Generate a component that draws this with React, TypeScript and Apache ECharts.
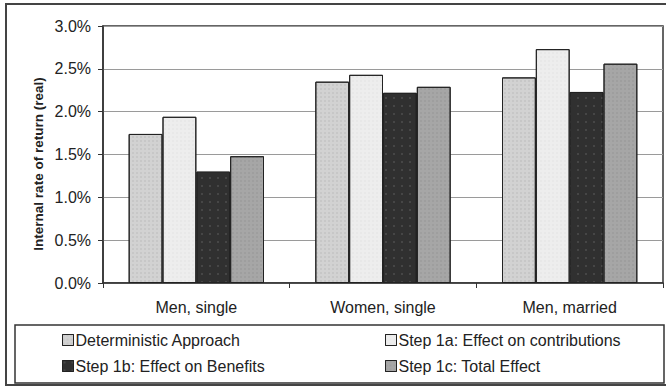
import React, { useEffect, useRef } from "react";
import * as echarts from "echarts";

const categories = ["Men, single", "Women, single", "Men, married"];
const seriesNames = [
  "Deterministic Approach",
  "Step 1a: Effect on contributions",
  "Step 1b: Effect on Benefits",
  "Step 1c: Total Effect",
];
const deterministic = [1.74, 2.35, 2.4];
const step1a = [1.94, 2.43, 2.73];
const step1b = [1.3, 2.22, 2.23];
const step1c = [1.48, 2.29, 2.56];
const yTicks = [0, 0.5, 1.0, 1.5, 2.0, 2.5, 3.0];
const yAxisTitle = "Internal rate of return (real)";

export default function App() {
  const ref = useRef<HTMLDivElement>(null);
  useEffect(() => {
    if (!ref.current) return;
    const chart = echarts.init(ref.current, null, { renderer: "svg" });
    const font = "Liberation Sans, Arial, sans-serif";
    const colors = ["#d2d2d2", "#ededed", "#303030", "#a6a6a6"];
    const decals = [
      { symbol: "rect", symbolSize: 0.5, color: "rgba(90,90,90,0.35)", dashArrayX: [2, 2], dashArrayY: [2, 2] },
      { symbol: "rect", symbolSize: 0.5, color: "rgba(150,150,150,0.25)", dashArrayX: [2, 2], dashArrayY: [2, 2] },
      { symbol: "rect", symbolSize: 0.5, color: "rgba(120,120,120,0.3)", dashArrayX: [4, 4], dashArrayY: [4, 4] },
      { symbol: "rect", symbolSize: 0.5, color: "rgba(60,60,60,0.3)", dashArrayX: [2, 2], dashArrayY: [2, 2] },
    ];
    const data = [deterministic, step1a, step1b, step1c];
    const legendCommon = {
      orient: "vertical",
      top: 327,
      icon: "rect",
      itemWidth: 11,
      itemHeight: 11,
      itemGap: 10,
      textStyle: { fontSize: 16, color: "#222", fontFamily: font, padding: [0, 0, 0, -3] },
      itemStyle: { borderColor: "#222", borderWidth: 1 },
    };
    chart.setOption({
      animation: false,
      backgroundColor: "#ffffff",
      textStyle: { fontFamily: font },
      grid: {
        left: 103,
        top: 26,
        right: 3,
        bottom: 106,
        show: true,
        borderColor: "#333",
        borderWidth: 1.5,
        backgroundColor: "transparent",
      },
      legend: [
        { ...legendCommon, data: [seriesNames[0], seriesNames[2]], left: 57 },
        { ...legendCommon, data: [seriesNames[1], seriesNames[3]], left: 380 },
      ],
      xAxis: {
        type: "category",
        data: categories,
        axisLine: { lineStyle: { color: "#333", width: 1.5 } },
        axisTick: { show: true, length: 5, lineStyle: { color: "#333" } },
        axisLabel: { fontSize: 16, color: "#222", margin: 16, fontFamily: font },
      },
      yAxis: {
        type: "value",
        min: 0,
        max: 3,
        interval: 0.5,
        axisLine: { show: true, lineStyle: { color: "#333", width: 1.5 } },
        axisTick: { show: true, length: 5, lineStyle: { color: "#333" } },
        axisLabel: {
          fontSize: 16,
          color: "#222",
          margin: 12,
          fontFamily: font,
          formatter: (v: number) => (yTicks.includes(v) ? v.toFixed(1) + "%" : ""),
        },
        splitLine: { lineStyle: { color: "#9a9a9a", width: 1 } },
      },
      series: data.map((d, i) => ({
        name: seriesNames[i],
        type: "bar",
        data: d,
        barGap: "0%",
        barCategoryGap: "27.5%",
        itemStyle: {
          color: colors[i],
          borderColor: "#222",
          borderWidth: 1,
          decal: decals[i],
        },
      })),
      aria: { enabled: false, decal: { show: true } },
      graphic: [
        {
          type: "text",
          x: 38,
          y: 164,
          rotation: Math.PI / 2,
          style: {
            text: yAxisTitle,
            font: "bold 13.5px Liberation Sans, Arial, sans-serif",
            fill: "#222",
            textAlign: "center",
            verticalAlign: "middle",
          },
        },
        {
          type: "rect",
          shape: { x: 15, y: 325, width: 649, height: 58 },
          style: { fill: "none", stroke: "#333", lineWidth: 1.5 },
          z: 100,
        },
        {
          type: "rect",
          shape: { x: 6, y: 4, width: 662, height: 381 },
          style: { fill: "none", stroke: "#444", lineWidth: 2 },
          z: 100,
        },
      ],
    });
    return () => chart.dispose();
  }, []);
  return (
    <div
      ref={ref}
      style={{ position: "absolute", left: 0, top: 0, width: 666, height: 389 }}
    />
  );
}
